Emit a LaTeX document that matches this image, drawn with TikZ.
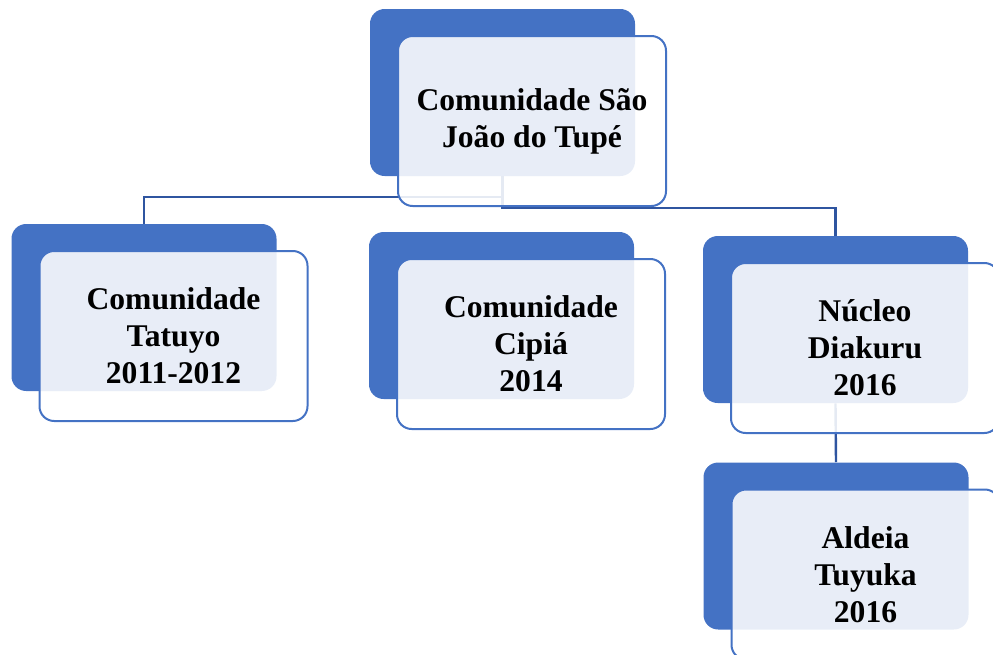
\documentclass[tikz,border=0pt]{standalone}
\usepackage{fontspec}
\setmainfont{Liberation Serif}
\definecolor{boxblue}{RGB}{68,114,196}
\definecolor{linkblue}{RGB}{47,85,160}

\begin{document}
\begin{tikzpicture}[x=0.75pt,y=0.75pt,yscale=-1,xscale=1,
  backbox/.style={fill=boxblue,draw=none,rounded corners=11pt,minimum width=198.75pt,minimum height=125.25pt,inner sep=0pt},
  frontbox/.style={draw=boxblue,line width=1.5pt,fill=white,fill opacity=0.88,text opacity=1,rounded corners=11pt,minimum width=201pt,minimum height=127.5pt,inner sep=0pt,align=center,font=\fontsize{23.7}{27.75}\selectfont\bfseries},
  link/.style={draw=linkblue,line width=1.8pt}]
\useasboundingbox (0,0) rectangle (993,654);

%Shape: back boxes
\node [backbox] (topb) at (502.5,92.5) {};
\node [backbox] (tatb) at (144,307.5) {};
\node [backbox] (cipb) at (501.5,315.5) {};
\node [backbox] (nucb) at (835.5,319.5) {};
\node [backbox] (aldb) at (836,546) {};

%Straight Lines
\draw [link] (topb.south) -- ++(0,21) -| (tatb.north) ;
\draw [link] (topb.south) -- ++(0,32) -| (nucb.north) ;
\draw [link] (nucb.south) -- (aldb.north) ;

%Shape: front boxes
\node [frontbox] (topf) at (532,121) {Comunidade São\\João do Tupé};
\node [frontbox] (tatf) at (173.5,336) {Comunidade\\Tatuyo\\2011-2012};
\node [frontbox] (cipf) at (531,344) {Comunidade\\Cipiá\\2014};
\node [frontbox] (nucf) at (865,348) {Núcleo\\Diakuru\\2016};
\node [frontbox] (aldf) at (865.5,574.5) {Aldeia\\Tuyuka\\2016};

\end{tikzpicture}
\end{document}
